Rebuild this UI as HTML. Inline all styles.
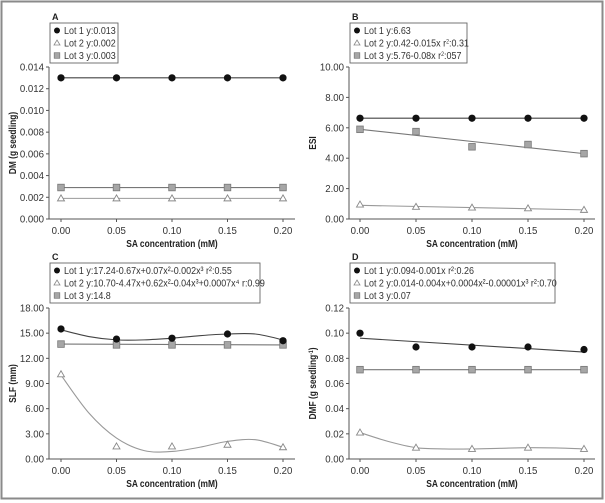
<!DOCTYPE html>
<html><head><meta charset="utf-8">
<style>
html,body{margin:0;padding:0;background:#fff;}
svg{display:block;font-family:"Liberation Sans Narrow","Liberation Sans",sans-serif;}
</style></head>
<body>
<svg id="fig" width="605" height="503" viewBox="0 0 605 503" xmlns="http://www.w3.org/2000/svg">
<rect x="1.5" y="1.5" width="601" height="497" fill="#fff" stroke="#8a8a8a" stroke-width="2"/>
</svg>
<script>
// ---------- data ----------
const xCats = [0, 0.05, 0.10, 0.15, 0.20];
const xTickLabels = ["0.00","0.05","0.10","0.15","0.20"];
const fitX = [0,0.025,0.05,0.075,0.1,0.125,0.15,0.175,0.2];

const aLot1 = [0.013,0.013,0.013,0.013,0.013];
const aLot2 = [0.0019,0.0019,0.0019,0.0019,0.0019];
const aLot3 = [0.0029,0.0029,0.0029,0.0029,0.0029];
const aTicks = ["0.000","0.002","0.004","0.006","0.008","0.010","0.012","0.014"];

const bLot1 = [6.63,6.63,6.63,6.63,6.63];
const bLot2 = [0.95,0.8,0.75,0.7,0.6];
const bLot3 = [5.9,5.75,4.75,4.9,4.3];
const bFit2 = [0.9,0.6];
const bFit3 = [5.9,4.3];
const bTicks = ["0.00","2.00","4.00","6.00","8.00","10.00"];

const cLot1 = [15.5,14.3,14.4,14.9,14.1];
const cLot2 = [10.1,1.5,1.5,1.7,1.4];
const cLot3 = [13.7,13.6,13.6,13.6,13.6];
const cFit1 = [15.4,14.6,14.2,14.2,14.4,14.7,14.9,14.9,14.2];
const cFit2 = [10.0,5.5,2.5,1.0,0.9,1.4,2.1,2.3,1.4];
const cTicks = ["0.00","3.00","6.00","9.00","12.00","15.00","18.00"];

const dLot1 = [0.100,0.089,0.089,0.089,0.087];
const dLot2 = [0.021,0.009,0.008,0.009,0.008];
const dLot3 = [0.071,0.071,0.071,0.071,0.071];
const dFit1 = [0.096,0.085];
const dFit2 = [0.021,0.014,0.009,0.008,0.008,0.0085,0.009,0.0088,0.008];
const dTicks = ["0.00","0.02","0.04","0.06","0.08","0.10","0.12"];

// ---------- drawing ----------
const NS="http://www.w3.org/2000/svg";
const svg=document.getElementById('fig');
function mk(tag,attrs,parent){const e=document.createElementNS(NS,tag);for(const k in attrs)e.setAttribute(k,attrs[k]);(parent||svg).appendChild(e);return e;}
const SQ=0.84;

function panel(p){
  const g=mk('g',{});
  
  
  const sx=v=>p.x0+(v-0)/(0.2)*(p.x1-p.x0);
  const sy=v=>p.yB-(v/p.ymax)*(p.yB-p.yT);
  const lt=mk('text',{x:p.ax+3,y:p.lgY-3,'font-size':9,'font-weight':'bold',fill:'#222'},g);lt.textContent=p.id;
  
  const ya=mk('line',{x1:p.ax,y1:p.yT,x2:p.ax,y2:p.yB,stroke:'#555','stroke-width':1},g);
  
  const xa=mk('line',{x1:p.ax,y1:p.yB,x2:p.ax+246,y2:p.yB,stroke:'#555','stroke-width':1},g);
  
  p.ticks.forEach((t,i)=>{
    const v=parseFloat(t);const y=sy(v);
    mk('line',{x1:p.ax-3,y1:y,x2:p.ax,y2:y,stroke:'#555'},g);
    const tx=mk('text',{x:0,y:0,'font-size':10.5,'text-anchor':'end',fill:'#333',transform:`translate(${p.ax-5},${y+3.5}) scale(0.92,1)`},g);tx.textContent=t;
    
  });
  xCats.forEach((c,i)=>{
    const x=sx(c);
    mk('line',{x1:x,y1:p.yB,x2:x,y2:p.yB+3,stroke:'#555'},g);
    const tx=mk('text',{x:0,y:0,'font-size':10.5,'text-anchor':'middle',fill:'#333',transform:`translate(${x},${p.yB+15}) scale(0.92,1)`},g);tx.textContent=xTickLabels[i];
    
  });
  const xt=mk('text',{x:0,y:0,'font-size':10,'font-weight':'bold','text-anchor':'middle',fill:'#222',transform:`translate(${(p.x0+p.x1)/2},${p.yB+28}) scale(${SQ},1)`},g);xt.textContent='SA concentration (mM)';
  
  const yc=(p.yT+p.yB)/2;
  const yt=mk('text',{x:0,y:0,'font-size':10,'font-weight':'bold','text-anchor':'middle',fill:'#222',transform:`translate(${p.ax-33},${yc}) rotate(-90) scale(${SQ},1)`},g);
  yt.innerHTML=p.ytitle;
  
  function poly(vals,xs,col,name){
    let d='';
    const pts=xs.map((x,i)=>[sx(x),sy(vals[i])]);
    if(pts.length===2){d=`M${pts[0][0]},${pts[0][1]}L${pts[1][0]},${pts[1][1]}`;}
    else{
      d=`M${pts[0][0]},${pts[0][1]}`;
      for(let i=0;i<pts.length-1;i++){
        const p0=pts[Math.max(0,i-1)],p1=pts[i],p2=pts[i+1],p3=pts[Math.min(pts.length-1,i+2)];
        const c1=[p1[0]+(p2[0]-p0[0])/6,p1[1]+(p2[1]-p0[1])/6];
        const c2=[p2[0]-(p3[0]-p1[0])/6,p2[1]-(p3[1]-p1[1])/6];
        d+=`C${c1[0]},${c1[1]} ${c2[0]},${c2[1]} ${p2[0]},${p2[1]}`;
      }
    }
    const e=mk('path',{d:d,fill:'none',stroke:col,'stroke-width':1.1},g);
    
  }
  const flat=(arr)=>[arr[0],arr[arr.length-1]];
  p.series.forEach(s=>{
    if(s.fit) poly(s.fit, s.fit.length===2?[0,0.2]:fitX, s.lc, 'fit-line-'+s.key);
    else poly(flat(s.vals),[0,0.2],s.lc,'fit-line-'+s.key);
  });
  p.series.forEach(s=>{
    s.vals.forEach((v,i)=>{
      const x=sx(xCats[i]),y=sy(v);let m;
      if(s.key==='lot1') m=mk('circle',{cx:x,cy:y,r:3.6,fill:'#111'},g);
      else if(s.key==='lot2') m=mk('path',{d:`M${x},${y-3.5}L${x+3.5},${y+2.5}L${x-3.5},${y+2.5}Z`,fill:'#fff',stroke:'#888','stroke-width':0.9},g);
      else m=mk('rect',{x:x-3.3,y:y-3.3,width:6.6,height:6.6,fill:'#a6a6a6',stroke:'#777','stroke-width':0.8},g);
      
    });
  });
  const lg=mk('g',{},g);
  
  mk('rect',{x:p.ax+1,y:p.lgY,width:p.lgW,height:40,fill:'#fff',stroke:'#666','stroke-width':0.9},lg);
  p.legend.forEach((t,i)=>{
    const cy=p.lgY+7.5+i*12.5, mx=p.ax+8;
    let m;
    if(i===0) m=mk('circle',{cx:mx,cy:cy,r:3,fill:'#111'},lg);
    else if(i===1) m=mk('path',{d:`M${mx},${cy-3}L${mx+3},${cy+2}L${mx-3},${cy+2}Z`,fill:'#fff',stroke:'#888','stroke-width':0.8},lg);
    else m=mk('rect',{x:mx-2.8,y:cy-2.8,width:5.6,height:5.6,fill:'#a6a6a6',stroke:'#777','stroke-width':0.7},lg);
    
    const tx=mk('text',{x:0,y:0,'font-size':10.3,fill:'#333',transform:`translate(${mx+7},${cy+3.5}) scale(0.87,1)`},lg);tx.innerHTML=t;
    
  });
}

const L1='#444',L2='#999',L3='#777';
panel({id:'A',ax:49,x0:61,x1:283,yT:67,yB:219,ymax:0.014,ticks:aTicks,lgY:23,lgW:68,
  ytitle:'DM (g seedling)',
  legend:['Lot 1 y:0.013','Lot 2 y:0.002','Lot 3 y:0.003'],
  series:[{key:'lot2',vals:aLot2,lc:L2},{key:'lot3',vals:aLot3,lc:L3},{key:'lot1',vals:aLot1,lc:L1}]});
panel({id:'B',ax:349,x0:360,x1:584,yT:67,yB:219,ymax:10,ticks:bTicks,lgY:23,lgW:117,
  ytitle:'ESI',
  legend:['Lot 1 y:6.63','Lot 2 y:0.42-0.015x r<tspan font-size="6" dy="-3">2</tspan><tspan dy="3">:0.31</tspan>','Lot 3 y:5.76-0.08x r<tspan font-size="6" dy="-3">2</tspan><tspan dy="3">:057</tspan>'],
  series:[{key:'lot2',vals:bLot2,fit:bFit2,lc:L2},{key:'lot3',vals:bLot3,fit:bFit3,lc:L3},{key:'lot1',vals:bLot1,lc:L1}]});
panel({id:'C',ax:49,x0:61,x1:283,yT:308,yB:459,ymax:18,ticks:cTicks,lgY:263,lgW:210,
  ytitle:'SLF (mm)',
  legend:['Lot 1 y:17.24-0.67x+0.07x²-0.002x³ r²:0.55','Lot 2 y:10.70-4.47x+0.62x²-0.04x³+0.0007x⁴ r:0.99','Lot 3 y:14.8'],
  series:[{key:'lot2',vals:cLot2,fit:cFit2,lc:L2},{key:'lot3',vals:cLot3,lc:L3},{key:'lot1',vals:cLot1,fit:cFit1,lc:L1}]});
panel({id:'D',ax:349,x0:360,x1:584,yT:308,yB:459,ymax:0.12,ticks:dTicks,lgY:263,lgW:205,
  ytitle:'DMF (g seedling<tspan font-size="6" dy="-3">-1</tspan><tspan dy="3">)</tspan>',
  legend:['Lot 1 y:0.094-0.001x r²:0.26','Lot 2 y:0.014-0.004x+0.0004x²-0.00001x³ r²:0.70','Lot 3 y:0.07'],
  series:[{key:'lot2',vals:dLot2,fit:dFit2,lc:L2},{key:'lot3',vals:dLot3,lc:L3},{key:'lot1',vals:dLot1,fit:dFit1,lc:L1}]});
</script>
</body></html>
